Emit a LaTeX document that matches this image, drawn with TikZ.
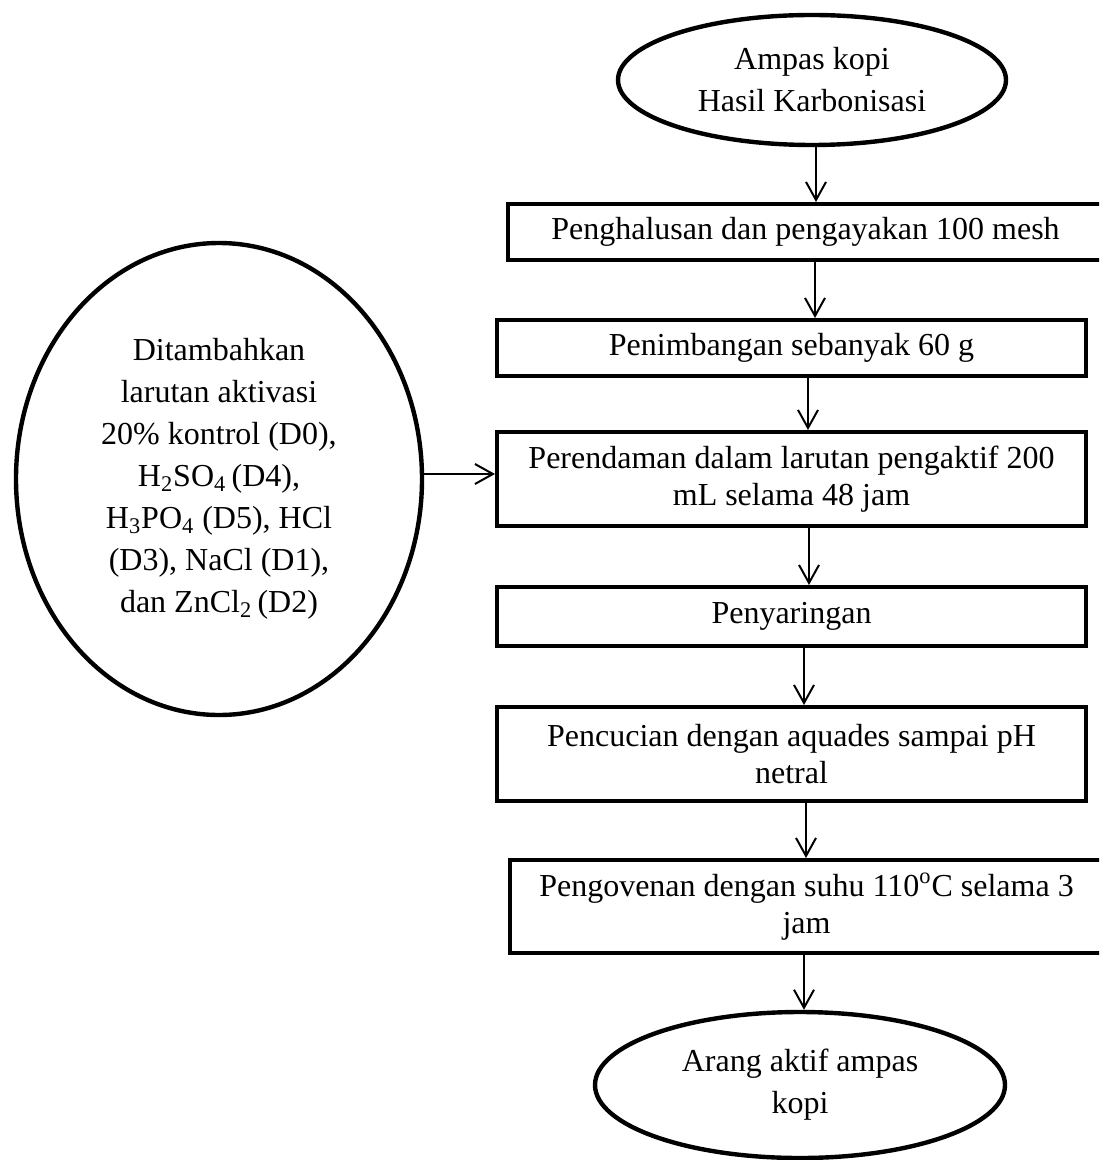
\documentclass[tikz,border=0pt]{standalone}
\usepackage{fontspec}
\setmainfont{Liberation Serif}
\usetikzlibrary{arrows.meta,shapes.geometric}
\begin{document}
\begin{tikzpicture}[x=0.5pt,y=-0.5pt,
  every node/.style={align=center, inner sep=0pt},
  stepbox/.style={draw, rectangle, line width=2pt,
    font=\fontsize{16pt}{18.5pt}\selectfont},
  oval/.style={draw, ellipse, line width=2.2pt,
    font=\fontsize{16pt}{21pt}\selectfont},
  flow/.style={line width=1pt,
    -{Straight Barb[length=9pt,width=10pt,line width=1pt]}}]
\useasboundingbox (0,0) rectangle (1099,1160);
\clip (0,0) rectangle (1099,1160);

% start and end ovals
\node[oval, minimum width=194pt, minimum height=65pt] (start) at (812,80)
  {Ampas kopi\\Hasil Karbonisasi};
\node[oval, minimum width=205pt, minimum height=73pt] (finish) at (800,1085)
  {Arang aktif ampas\\kopi};

% activating solutions
\node[oval, minimum width=203pt, minimum height=236pt] (agent) at (219,479)
  {Ditambahkan\\larutan aktivasi\\20\% kontrol (D0),\\
   H\textsubscript{2}SO\textsubscript{4}\,(D4),\\
   H\textsubscript{3}PO\textsubscript{4} (D5), HCl\\
   (D3), NaCl (D1),\\dan ZnCl\textsubscript{2}\,(D2)};

% process steps
\node[stepbox, minimum width=297.5pt, minimum height=28pt] (s1) at (805.5,232)
  {Penghalusan dan pengayakan 100 mesh};
\node[stepbox, minimum width=294.5pt, minimum height=28pt] (s2) at (791.5,348)
  {Penimbangan sebanyak 60 g};
\node[stepbox, minimum width=294.5pt, minimum height=47pt] (s3) at (791.5,479)
  {Perendaman dalam larutan pengaktif 200\\mL selama 48 jam};
\node[stepbox, minimum width=294.5pt, minimum height=29.5pt] (s4) at (791.5,616.5)
  {Penyaringan};
\node[stepbox, minimum width=294.5pt, minimum height=47pt] (s5) at (791.5,754)
  {Pencucian dengan aquades sampai pH\\netral};
\node[stepbox, minimum width=296.5pt, minimum height=46.5pt] (s6) at (806.5,906.5)
  {Pengovenan dengan suhu 110\textsuperscript{o}C selama 3\\jam};

% vertical lanes of the connectors
\coordinate (c0) at (816,0);
\coordinate (c1) at (815,0);
\coordinate (c2) at (808,0);
\coordinate (c3) at (809,0);
\coordinate (c4) at (804,0);
\coordinate (c5) at (806,0);
\coordinate (c6) at (804,0);
\coordinate (ya) at (0,474);

\draw[flow] (c0 |- start.south) -- (c0 |- s1.north);
\draw[flow] (c1 |- s1.south) -- (c1 |- s2.north);
\draw[flow] (c2 |- s2.south) -- (c2 |- s3.north);
\draw[flow] (c3 |- s3.south) -- (c3 |- s4.north);
\draw[flow] (c4 |- s4.south) -- (c4 |- s5.north);
\draw[flow] (c5 |- s5.south) -- (c5 |- s6.north);
\draw[flow] (c6 |- s6.south) -- (c6 |- finish.north);
\draw[flow] (agent.east |- ya) -- (s3.west |- ya);
\end{tikzpicture}
\end{document}
